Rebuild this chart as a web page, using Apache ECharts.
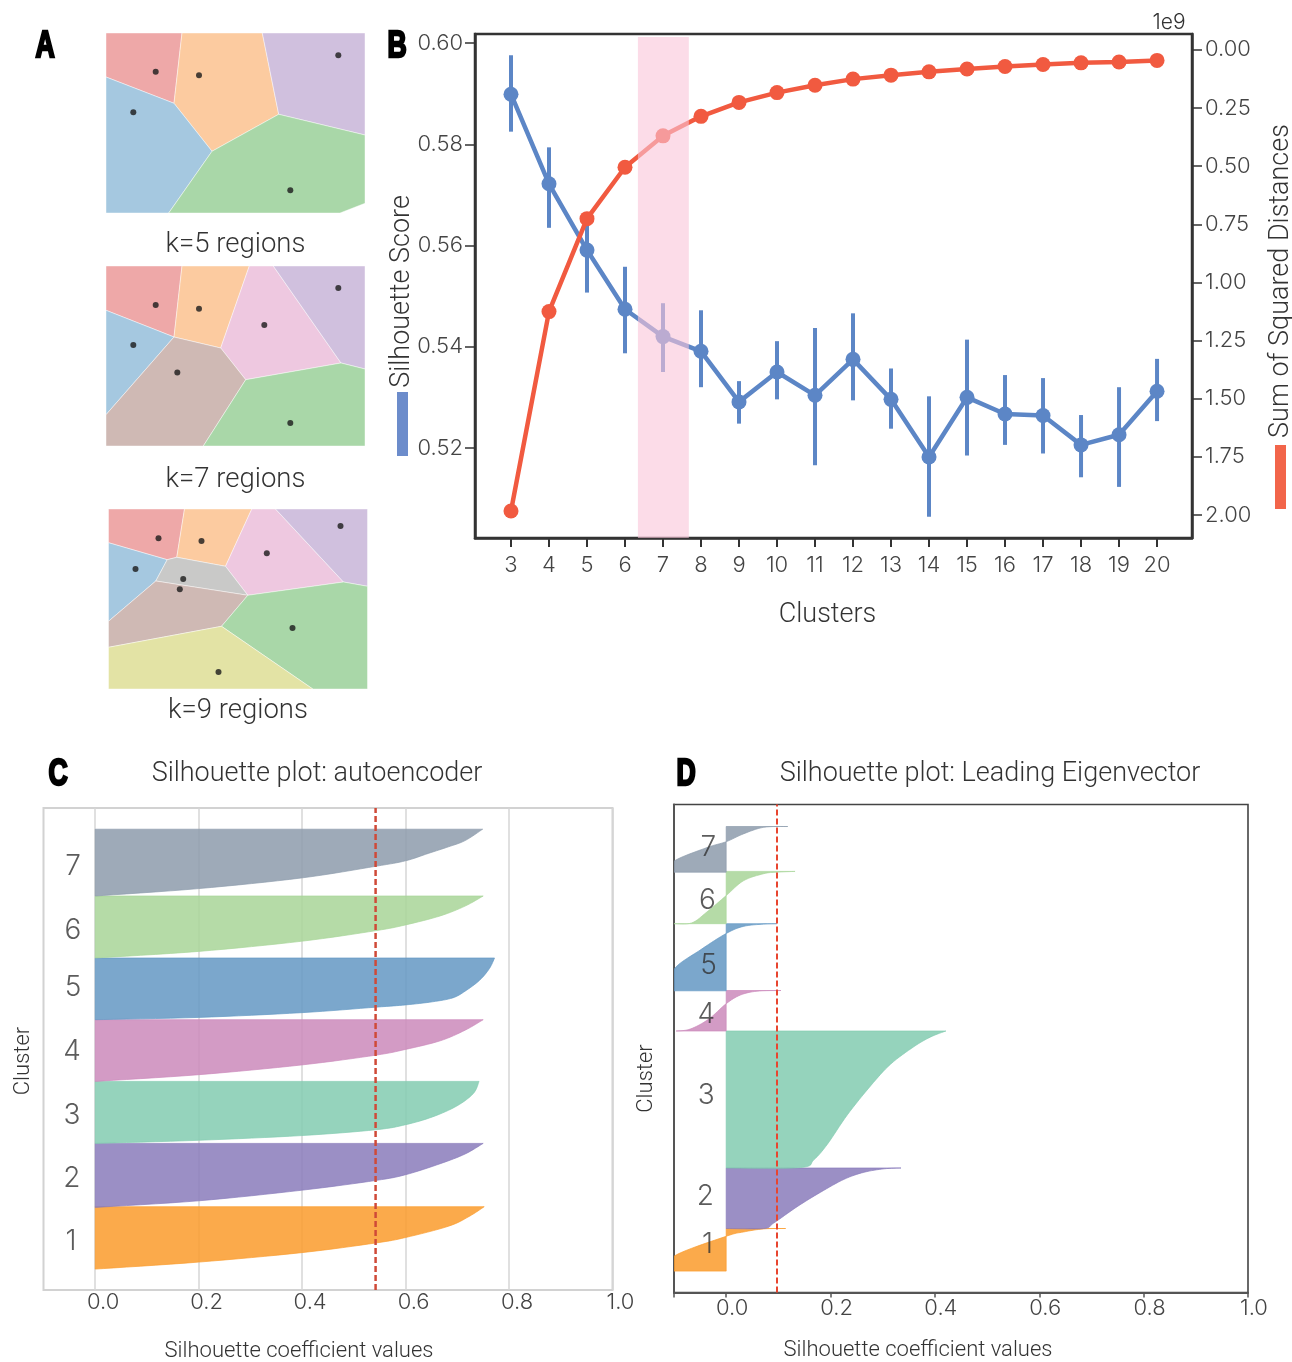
<!DOCTYPE html>
<html>
<head>
<meta charset="utf-8">
<style>
  html, body { margin: 0; padding: 0; background: #fff; }
  #main { width: 1292px; height: 1362px; }
</style>
<script src="https://cdn.jsdelivr.net/npm/echarts@6/dist/echarts.min.js"></script>
</head>
<body>
<div id="main"></div>
<script>
// Panel A: voronoi regions, in panel units (259 x 180, y measured from the top)
const regionColors = { red: "#EEA8A8", orange: "#FCCBA0", purple: "#D0C0DE", blue: "#A5C8E0", green: "#A9D7A8", pink: "#EEC8E0", brown: "#CFB9B4", gray: "#C9C9C8", yellow: "#E3E3A5" };

const k5Regions = [
  ["red", [[0, 0], [76, 0], [68, 70.3], [0, 44]]],
  ["orange", [[76, 0], [156.3, 0], [172.7, 81.3], [106, 118.3], [68, 70.3]]],
  ["purple", [[156.3, 0], [259, 0], [259, 102], [172.7, 81.3]]],
  ["blue", [[0, 44], [68, 70.3], [106, 118.3], [62.7, 180], [0, 180]]],
  ["green", [[106, 118.3], [172.7, 81.3], [259, 102], [259, 170.3], [234, 180], [62.7, 180]]],
];
const k5Centers = [[49.7, 38.7], [93, 42.3], [232.3, 22.3], [27.3, 79.3], [184.3, 157.3]];

const k7Regions = [
  ["red", [[0, 0], [76, 0], [68, 71], [0, 44.3]]],
  ["orange", [[76, 0], [143.3, 0], [114.7, 82], [68, 71]]],
  ["pink", [[143.3, 0], [167.3, 0], [235, 97], [139.7, 113.7], [114.7, 82]]],
  ["purple", [[167.3, 0], [259, 0], [259, 103], [235, 97]]],
  ["blue", [[0, 44.3], [68, 71], [0, 148.7]]],
  ["brown", [[68, 71], [114.7, 82], [139.7, 113.7], [97.3, 180], [0, 180], [0, 148.7]]],
  ["green", [[139.7, 113.7], [235, 97], [259, 103], [259, 180], [97.3, 180]]],
];
const k7Centers = [[49.7, 39], [93, 42.7], [232.3, 22], [27.3, 79], [158.3, 59], [71.3, 106.4], [184.3, 157]];

const k9Regions = [
  ["red", [[0, 0], [76, 0], [68.3, 48.3], [58.7, 50.7], [0, 33.7]]],
  ["orange", [[76, 0], [143.3, 0], [117, 57.3], [68.3, 48.3]]],
  ["pink", [[143.3, 0], [167, 0], [235, 73], [139.3, 86.3], [117, 57.3]]],
  ["purple", [[167, 0], [259, 0], [259, 77.3], [235, 73]]],
  ["blue", [[0, 33.7], [58.7, 50.7], [47.3, 72], [0, 112.3]]],
  ["gray", [[58.7, 50.7], [68.3, 48.3], [117, 57.3], [139.3, 86.3], [47.3, 72]]],
  ["brown", [[47.3, 72], [139.3, 86.3], [113, 117.3], [0, 138.3], [0, 112.3]]],
  ["green", [[139.3, 86.3], [235, 73], [259, 77.3], [259, 180], [204.3, 180], [113, 117.3]]],
  ["yellow", [[0, 138.3], [113, 117.3], [204.3, 180], [0, 180]]],
];
const k9Centers = [[50, 29.3], [93, 32], [232, 17], [27, 60], [158.3, 44.3], [74.7, 70], [71.3, 80.3], [184, 119], [110, 163]];

// Panel B
const clusterCounts = [3, 4, 5, 6, 7, 8, 9, 10, 11, 12, 13, 14, 15, 16, 17, 18, 19, 20];
const silhouetteScore = [0.5899, 0.5722, 0.5591, 0.5474, 0.5420, 0.5391, 0.5291, 0.5350, 0.5304, 0.5375, 0.5296, 0.5182, 0.5300, 0.5267, 0.5264, 0.5206, 0.5226, 0.5312];
const silhouetteHigh = [0.5976, 0.5794, 0.5650, 0.5558, 0.5486, 0.5472, 0.5332, 0.5411, 0.5437, 0.5466, 0.5357, 0.5302, 0.5414, 0.5344, 0.5338, 0.5265, 0.5320, 0.5376];
const silhouetteLow = [0.5825, 0.5635, 0.5507, 0.5387, 0.5350, 0.5320, 0.5248, 0.5296, 0.5166, 0.5294, 0.5238, 0.5064, 0.5185, 0.5206, 0.5189, 0.5142, 0.5123, 0.5253];
const squaredDistances = [1.983, 1.1255, 0.726, 0.505, 0.370, 0.286, 0.226, 0.184, 0.1525, 0.126, 0.109, 0.0947, 0.0824, 0.0719, 0.063, 0.056, 0.0525, 0.0455];
const scoreTicks = [0.52, 0.54, 0.56, 0.58, 0.60];
const distanceTicks = [0, 0.25, 0.5, 0.75, 1, 1.25, 1.5, 1.75, 2];
const chosenBand = [6.34, 7.68];

// Panels C and D: silhouette outlines as [coefficient, row], row 0 at the plot bottom
const clusterNames = ["1", "2", "3", "4", "5", "6", "7"];
const coefTicks = [0, 0.2, 0.4, 0.6, 0.8, 1];

const ae1 = [[0, 20.9], [0.2, 27.9], [0.398, 37.3], [0.542, 47], [0.6, 52.5], [0.683, 63.8], [0.723, 73.6], [0.752, 83.3]];
const ae2 = [[0, 82.6], [0.2, 89.2], [0.398, 99.7], [0.542, 109.5], [0.6, 115.3], [0.667, 126.3], [0.715, 136], [0.75, 146.6]];
const ae3 = [[0, 146.6], [0.2, 149.7], [0.398, 154.4], [0.542, 160.2], [0.6, 165.3], [0.652, 173.1], [0.699, 184], [0.731, 196.5], [0.742, 208.6]];
const ae4 = [[0, 208.6], [0.2, 215.3], [0.398, 225], [0.542, 234.8], [0.6, 240.6], [0.667, 249.2], [0.715, 259.8], [0.75, 270.3]];
const ae5 = [[0, 270.3], [0.2, 272.6], [0.398, 277.3], [0.542, 282.8], [0.6, 285.1], [0.652, 288.2], [0.691, 292.1], [0.715, 298.8], [0.743, 309.7], [0.762, 321.4], [0.772, 332]];
const ae6 = [[0, 332], [0.2, 338.6], [0.398, 348.7], [0.542, 359.3], [0.6, 365.1], [0.667, 374.1], [0.715, 383.9], [0.75, 394]];
const ae7 = [[0, 394], [0.2, 401.4], [0.398, 412], [0.542, 423.7], [0.6, 429.2], [0.644, 436.6], [0.683, 443.2], [0.715, 449.4], [0.749, 460.8]];
const aeMean = 0.542;
const aeLabelCoef = [-0.047, -0.045, -0.045, -0.045, -0.043, -0.043, -0.043];
const aeLabelRows = [51, 114, 177, 241, 305, 362, 426];

const le1 = [[-0.1, 21.4], [-0.1, 36.3], [0, 56.2], [0.033, 60.5], [0.072, 63.6], [0.114, 64]];
const le2 = [[0, 64], [0.072, 64], [0.091, 69.4], [0.136, 85.8], [0.181, 100.3], [0.226, 113.2], [0.264, 120.2], [0.303, 123.7], [0.335, 124.5]];
const le3 = [[0, 124.5], [0.142, 124.9], [0.168, 132.7], [0.194, 148.3], [0.232, 177.5], [0.277, 206.8], [0.315, 228.3], [0.36, 245.9], [0.392, 255.6], [0.421, 261.5]];
const le4 = [[-0.096, 261.5], [-0.069, 263.4], [-0.034, 273.2], [0, 288.8], [0.027, 297.4], [0.059, 301.3], [0.105, 302]];
const le5 = [[-0.1, 301.7], [-0.1, 323.1], [-0.047, 343.4], [0, 359], [0.033, 366.1], [0.072, 368.4], [0.097, 368.8]];
const le6 = [[-0.1, 368.8], [-0.066, 369.6], [-0.037, 380.5], [0, 396.9], [0.033, 411.7], [0.072, 418.8], [0.097, 420.3], [0.132, 421.1]];
const le7 = [[-0.1, 420.3], [-0.1, 431.3], [-0.037, 444.9], [0, 450.8], [0.033, 458.6], [0.072, 465.2], [0.118, 466]];
const leMean = 0.0974;
const leLabelCoef = [-0.036, -0.04, -0.038, -0.038, -0.034, -0.036, -0.034];
const leLabelRows = [50, 98.5, 199, 280.5, 329.5, 394.5, 447];

const clusterColors = ["#FA9B2C", "#897BBB", "#82CBB0", "#CB89BB", "#6498C3", "#A8D598", "#8D9BAC"];

const FONT = "Roboto";
const DIGITS = "Inter";
const WEIGHT = 300;
const TEXT = "#333";
const BLUE = "#5C86C6";
const RED = "#F15A40";

const chart = echarts.init(document.getElementById("main"));

function regionAxes(gridIndex, title, gap) {
  return {
    x: {
      gridIndex, type: "value", min: 0, max: 259,
      name: title, nameLocation: "middle", nameGap: gap,
      nameTextStyle: { fontFamily: FONT, fontWeight: WEIGHT, fontSize: 27.5, color: TEXT },
      axisLine: { show: false }, axisTick: { show: false }, axisLabel: { show: false }, splitLine: { show: false },
    },
    y: {
      gridIndex, type: "value", min: 0, max: 180, inverse: true,
      axisLine: { show: false }, axisTick: { show: false }, axisLabel: { show: false }, splitLine: { show: false },
    },
  };
}

// Panel A polygons plus centre dots
function regionSeries(axisIndex, regions, centers) {
  return [
    {
      type: "custom", xAxisIndex: axisIndex, yAxisIndex: axisIndex, silent: true,
      data: regions.map((r, i) => [i]),
      renderItem: (params, api) => ({
        type: "polygon",
        shape: { points: regions[params.dataIndex][1].map((p) => api.coord(p)) },
        style: { fill: regionColors[regions[params.dataIndex][0]], stroke: "rgba(255,255,255,0.55)", lineWidth: 0.8 },
      }),
    },
    {
      type: "scatter", xAxisIndex: axisIndex, yAxisIndex: axisIndex, silent: true, z: 4,
      data: centers, symbolSize: 6, itemStyle: { color: "#1a1a1a" },
    },
  ];
}

// draw the outline as a smooth curve through the read points, like a line series' smooth
function smoothOutline(pts) {
  const out = [];
  for (let i = 0; i < pts.length - 1; i++) {
    const p0 = pts[Math.max(i - 1, 0)], p1 = pts[i], p2 = pts[i + 1], p3 = pts[Math.min(i + 2, pts.length - 1)];
    for (let s = 0; s < 8; s++) {
      const t = s / 8, t2 = t * t, t3 = t2 * t;
      out.push([0, 1].map((d) => 0.5 * (2 * p1[d] + (p2[d] - p0[d]) * t + (2 * p0[d] - 5 * p1[d] + 4 * p2[d] - p3[d]) * t2 + (3 * p1[d] - p0[d] - 3 * p2[d] + p3[d]) * t3)));
    }
  }
  out.push(pts[pts.length - 1]);
  return out;
}

// Silhouette fill between coefficient 0 and the outline
function silhouetteSeries(xIdx, yIdx, outlines) {
  return {
    type: "custom", xAxisIndex: xIdx, yAxisIndex: yIdx, silent: true, z: 3, clip: true,
    data: outlines.map((o, i) => [i]),
    renderItem: (params, api) => {
      const o = outlines[params.dataIndex];
      const start = api.coord([0, o[0][1]]);
      const end = api.coord([0, o[o.length - 1][1]]);
      const curve = smoothOutline(o.map((p) => api.coord(p)));
      return {
        type: "polygon",
        shape: { points: [start, ...curve, end] },
        style: { fill: clusterColors[params.dataIndex], opacity: 0.85, stroke: clusterColors[params.dataIndex], lineWidth: 0.8 },
      };
    },
  };
}

function meanLine(xIdx, yIdx, mean, top, color, width) {
  return {
    type: "line", xAxisIndex: xIdx, yAxisIndex: yIdx, silent: true, z: 6,
    symbol: "none", data: [[mean, 0], [mean, top]],
    lineStyle: { color, width, type: [6, 3] },
  };
}

function clusterLabels(xIdx, yIdx, coefs, rows, size) {
  return {
    type: "scatter", xAxisIndex: xIdx, yAxisIndex: yIdx, silent: true, z: 7, symbolSize: 1,
    itemStyle: { color: "rgba(0,0,0,0)" },
    data: rows.map((r, i) => ({ value: [coefs[i], r], name: clusterNames[i] })),
    label: {
      show: true, position: "inside", offset: [0, 2.5], formatter: "{b}",
      fontFamily: DIGITS, fontWeight: WEIGHT, fontSize: size, color: "#333",
    },
  };
}

const a5 = regionAxes(0, "k=5 regions", 18);
const a7 = regionAxes(1, "k=7 regions", 20);
const a9 = regionAxes(2, "k=9 regions", 8);

const tickFont = { fontFamily: DIGITS, fontWeight: WEIGHT, fontSize: 22, color: "#444" };
const nameFont = { fontFamily: FONT, fontWeight: WEIGHT, color: TEXT };
const noBounds = { outerBoundsMode: "none" };

const option = {
  animation: false,
  backgroundColor: "#fff",
  grid: [
    { left: 106, top: 33, width: 259, height: 180, ...noBounds },
    { left: 106, top: 266, width: 259, height: 180, ...noBounds },
    { left: 108.5, top: 509, width: 259, height: 180, ...noBounds },
    { left: 475, top: 34, width: 717, height: 504, show: true, borderWidth: 2.5, borderColor: "#333", ...noBounds },
    { left: 43.5, top: 808, width: 569, height: 482, show: true, borderWidth: 2, borderColor: "#d2d2d2", ...noBounds },
    { left: 674, top: 804.5, width: 574, height: 488, show: true, borderWidth: 1.6, borderColor: "#444", ...noBounds },
  ],
  xAxis: [
    a5.x, a7.x, a9.x,
    {
      gridIndex: 3, type: "value", min: 2.053, max: 20.92,
      name: "Clusters", nameLocation: "middle", nameGap: 64,
      nameTextStyle: { ...nameFont, fontSize: 27, padding: [0, 12, 0, 0] },
      axisLine: { onZero: false, lineStyle: { color: "#333", width: 2.5 } },
      axisTick: { show: true, customValues: clusterCounts, length: 9, lineStyle: { color: "#333", width: 2 } },
      axisLabel: { customValues: clusterCounts, margin: 16, ...tickFont },
      splitLine: { show: false },
    },
    {
      gridIndex: 4, type: "value", min: -0.1, max: 1,
      name: "Silhouette coefficient values", nameLocation: "middle", nameGap: 50,
      nameTextStyle: { ...nameFont, fontSize: 22, padding: [0, 58, 0, 0] },
      axisLine: { show: false, onZero: false },
      axisTick: { show: false, customValues: coefTicks },
      axisLabel: { customValues: coefTicks, margin: 1, padding: [0, 0, 0, 16], formatter: (v) => v.toFixed(1), ...tickFont },
      splitLine: { show: true, lineStyle: { color: "#d6d6d6", width: 1.5 } },
    },
    {
      gridIndex: 5, type: "value", min: -0.1, max: 1,
      name: "Silhouette coefficient values", nameLocation: "middle", nameGap: 47,
      nameTextStyle: { ...nameFont, fontSize: 22, padding: [0, 86, 0, 0] },
      axisLine: { onZero: false, lineStyle: { color: "#555", width: 2 } },
      axisTick: { show: true, customValues: [-0.1, ...coefTicks], length: 5, lineStyle: { color: "#555", width: 1.5 } },
      axisLabel: { customValues: coefTicks, margin: 5, padding: [0, 0, 0, 12], formatter: (v) => v.toFixed(1), ...tickFont },
      splitLine: { show: false },
    },
  ],
  yAxis: [
    a5.y, a7.y, a9.y,
    {
      gridIndex: 3, type: "value", min: 0.5022, max: 0.6018,
      name: "Silhouette Score", nameLocation: "middle", nameGap: 59, nameRotate: 90, nameMoveOverlap: false,
      nameTextStyle: { ...nameFont, fontSize: 27, padding: [0, 11, 0, 0] },
      axisLine: { show: true, onZero: false, lineStyle: { color: "#333", width: 2.5 } },
      axisTick: { show: true, customValues: scoreTicks, length: 10, lineStyle: { color: "#333", width: 1.5 } },
      axisLabel: { customValues: scoreTicks, margin: 12, padding: [4, 0, 0, 0], formatter: (v) => v.toFixed(2), ...tickFont },
      splitLine: { show: false },
    },
    {
      gridIndex: 3, type: "value", min: -0.068, max: 2.099, inverse: true, position: "right",
      name: "Sum of Squared Distances", nameLocation: "middle", nameGap: 76, nameRotate: 90,
      nameTextStyle: { ...nameFont, fontSize: 27, padding: [0, 0, 0, 10] },
      axisLine: { show: true, onZero: false, lineStyle: { color: "#333", width: 2.5 } },
      axisTick: { show: true, customValues: distanceTicks, length: 10, lineStyle: { color: "#333", width: 1.5 } },
      axisLabel: { customValues: distanceTicks, margin: 13, padding: [4, 0, 0, 0], formatter: (v) => v.toFixed(2), ...tickFont },
      splitLine: { show: false },
    },
    {
      gridIndex: 4, type: "value", min: 0, max: 482,
      name: "Cluster", nameLocation: "middle", nameGap: 9, nameRotate: 90,
      nameTextStyle: { ...nameFont, fontSize: 22, padding: [0, 24, 0, 0] },
      axisLine: { show: false, onZero: false }, axisTick: { show: false }, axisLabel: { show: false }, splitLine: { show: false },
    },
    {
      gridIndex: 5, type: "value", min: 0, max: 488,
      name: "Cluster", nameLocation: "middle", nameGap: 17, nameRotate: 90,
      nameTextStyle: { ...nameFont, fontSize: 22, padding: [0, 60, 0, 0] },
      axisLine: { show: true, onZero: false, lineStyle: { color: "#555", width: 2 } },
      axisTick: { show: false }, axisLabel: { show: false }, splitLine: { show: false },
    },
  ],
  series: [
    ...regionSeries(0, k5Regions, k5Centers),
    ...regionSeries(1, k7Regions, k7Centers),
    ...regionSeries(2, k9Regions, k9Centers),
    // error bars
    {
      type: "custom", xAxisIndex: 3, yAxisIndex: 3, silent: true, z: 2,
      data: clusterCounts.map((k, i) => [k, silhouetteLow[i], silhouetteHigh[i]]),
      renderItem: (params, api) => {
        const lo = api.coord([api.value(0), api.value(1)]);
        const hi = api.coord([api.value(0), api.value(2)]);
        return {
          type: "line",
          shape: { x1: lo[0], y1: lo[1], x2: hi[0], y2: hi[1] },
          style: { stroke: BLUE, lineWidth: 4 },
        };
      },
    },
    {
      name: "Silhouette Score", type: "line", xAxisIndex: 3, yAxisIndex: 3, silent: true, z: 3,
      data: clusterCounts.map((k, i) => [k, silhouetteScore[i]]),
      symbol: "circle", symbolSize: 15,
      itemStyle: { color: BLUE }, lineStyle: { color: BLUE, width: 4.5 },
    },
    {
      name: "Sum of Squared Distances", type: "line", xAxisIndex: 3, yAxisIndex: 4, silent: true, z: 4,
      data: clusterCounts.map((k, i) => [k, squaredDistances[i]]),
      symbol: "circle", symbolSize: 15,
      itemStyle: { color: RED }, lineStyle: { color: RED, width: 4.5 },
    },
    // highlight band at k=7, over the lines
    {
      type: "custom", xAxisIndex: 3, yAxisIndex: 3, silent: true, z: 8,
      data: [[chosenBand[0], chosenBand[1]]],
      renderItem: (params, api) => {
        const a = api.coord([api.value(0), 0.6012]);
        const b = api.coord([api.value(1), 0.5022]);
        return {
          type: "rect",
          shape: { x: a[0], y: a[1], width: b[0] - a[0], height: b[1] - a[1] },
          style: { fill: "rgba(250,197,217,0.6)" },
        };
      },
    },
    silhouetteSeries(4, 5, [ae1, ae2, ae3, ae4, ae5, ae6, ae7]),
    meanLine(4, 5, aeMean, 482, "#CF4A38", 2.5),
    clusterLabels(4, 5, aeLabelCoef, aeLabelRows, 28),
    silhouetteSeries(5, 6, [le1, le2, le3, le4, le5, le6, le7]),
    meanLine(5, 6, leMean, 488, "#E8452F", 2),
    clusterLabels(5, 6, leLabelCoef, leLabelRows, 28),
  ],
  graphic: [
    // colour keys next to the B axis names
    { type: "rect", shape: { x: 397, y: 392, width: 11, height: 64 }, style: { fill: "#6C8CCB" } },
    { type: "rect", shape: { x: 1275, y: 445, width: 11, height: 64 }, style: { fill: "#F2654A" } },
    { type: "text", x: 1169, y: 23, style: { text: "1e9", font: "300 21px " + DIGITS, fill: TEXT, textAlign: "center", textVerticalAlign: "middle" } },
    { type: "text", x: 317, y: 774, style: { text: "Silhouette plot: autoencoder", font: "300 27px " + FONT, fill: TEXT, textAlign: "center", textVerticalAlign: "middle" } },
    { type: "text", x: 990, y: 774, style: { text: "Silhouette plot: Leading Eigenvector", font: "300 27px " + FONT, fill: TEXT, textAlign: "center", textVerticalAlign: "middle" } },
    // panel letters
    ...[["A", 45, 47], ["B", 397, 47], ["C", 58, 775], ["D", 686, 775]].map(([t, x, y]) => ({
      type: "text", x, y, scaleX: 0.72,
      style: { text: t, font: "bold 37px 'Liberation Sans'", fill: "#000", stroke: "#000", lineWidth: 2.5, textAlign: "center", textVerticalAlign: "middle" },
    })),
  ],
};

chart.setOption(option);
</script>
</body>
</html>
